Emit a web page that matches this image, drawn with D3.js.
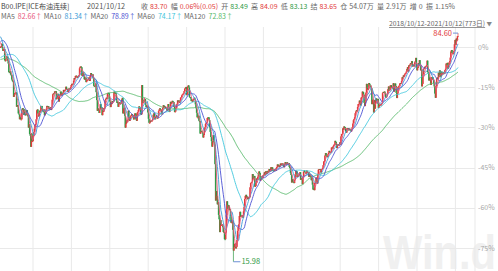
<!DOCTYPE html>
<html>
<head>
<meta charset="utf-8">
<script src="https://cdn.jsdelivr.net/npm/d3@7"></script>
<style>
body { margin: 0; background: #fff; }
</style>
</head>
<body>
<div class="chart"></div>
<script>
// daily closes, B00.IPE (ICE Brent continuous)
// 2018/04/20 - 2018/10/11, only used to warm up the moving averages
var closePre = [
74.06, 74.71, 73.86, 74.00, 74.74, 75.17, 74.64,
75.20, 73.13, 73.36, 74.87, 74.87, 76.17, 74.85, 77.21, 77.47, 77.12, 76.80, 78.23, 79.28, 79.30, 78.51, 79.22, 79.22, 78.79, 76.44, 75.30, 75.39, 77.50,
76.79, 76.30, 75.29, 75.36, 77.32, 76.46, 76.46, 76.74, 75.94, 73.44, 75.34, 75.08, 74.74, 73.05, 75.55, 74.73, 76.31, 77.62, 77.85, 79.44, 79.23,
77.30, 77.76, 77.24, 77.39, 77.11, 78.07, 78.86, 73.40, 74.45, 75.33, 71.84, 72.90, 72.90, 72.58, 73.07, 73.06, 73.44, 73.90, 74.29, 74.29, 74.00, 74.25,
74.21, 72.39, 73.45, 73.21, 74.75, 73.65, 72.28, 72.07, 72.81, 72.61, 72.61, 70.76, 71.43, 71.83, 71.93, 72.21, 74.78, 74.78, 75.73, 76.21, 75.95, 77.14, 77.42,
78.15, 78.17, 77.27, 76.50, 76.83, 77.37, 79.06, 79.74, 78.18, 78.09, 78.70, 79.40, 78.70, 78.80, 81.20, 81.87, 81.87, 81.30, 82.03, 82.72,
84.98, 84.80, 86.29, 86.07, 84.16, 83.91, 83.09, 81.41, 80.26
];
var close2018 = [
80.43, 80.78, 81.41, 80.05, 79.29, 79.78, 79.83, 76.44, 76.17, 76.89, 77.62, 77.34, 76.34, 75.47,
72.89, 72.83, 73.17, 72.13, 72.07, 70.65, 70.18, 70.12, 65.47, 66.12, 66.62, 66.76, 66.79, 62.53, 63.01, 62.60, 60.48, 60.21, 58.76, 59.51, 58.71, 58.71,
61.69, 62.08, 61.56, 60.06, 61.67, 59.97, 60.20, 60.15, 61.45, 60.28, 59.61, 56.26, 57.24, 54.35, 53.82, 50.47, 54.47, 52.16, 52.20, 53.80
];
var close2019 = [
54.91, 55.95, 57.06, 57.33, 58.72, 61.44, 61.68, 60.48, 59.59, 60.64, 61.32, 61.18, 62.70, 62.74, 61.50, 61.14, 61.09, 61.64, 59.93, 60.34, 61.32, 61.89,
62.75, 62.51, 62.69, 61.98, 62.10, 61.63, 62.42, 61.51, 62.42, 64.61, 66.25, 66.50, 66.45, 67.08, 66.91, 67.12, 64.76, 65.21, 66.39, 66.31,
64.07, 65.67, 65.86, 66.99, 66.30, 65.74, 66.58, 66.67, 67.55, 67.16, 67.54, 67.61, 68.50, 67.61, 67.86, 67.03, 67.21, 67.97, 67.83, 67.82, 68.39,
69.01, 69.37, 69.31, 69.40, 70.34, 71.10, 71.02, 71.73, 71.83, 71.55, 71.18, 71.72, 71.62, 71.97, 74.04, 74.51, 74.57, 74.35, 71.83, 72.04, 72.80,
71.62, 70.75, 70.85, 71.24, 69.88, 70.39, 70.61, 70.62, 71.24, 71.24, 70.23, 71.77, 72.62, 72.21, 71.97, 72.18, 70.99, 68.76, 68.69, 68.87, 69.45, 66.87, 64.49,
61.28, 61.97, 61.67, 60.63, 61.67, 63.29, 62.01, 62.29, 59.97, 61.31, 61.01, 62.14, 62.14, 64.45, 64.84, 65.20, 64.86, 66.49, 66.66, 66.55, 64.74,
64.06, 62.40, 63.82, 63.30, 64.23, 64.16, 64.11, 67.01, 66.52, 66.72, 66.48, 64.35, 63.66, 63.93, 62.47, 63.26, 63.83, 63.46, 63.39, 63.71, 64.72, 65.17,
60.50, 61.89, 62.15, 59.81, 56.23, 57.38, 58.53, 57.97, 58.57, 61.30, 59.48, 58.23, 58.64, 59.74, 60.03, 60.30, 59.92, 59.34, 58.70, 59.51, 60.49, 60.43,
58.66, 58.26, 60.70, 60.95, 61.54, 62.59, 62.38, 61.81, 60.38, 60.22, 69.02, 64.55, 63.60, 64.40, 64.28, 64.77, 63.10, 62.39, 62.74, 62.48, 60.78,
58.89, 57.69, 57.71, 58.37, 58.35, 58.24, 58.32, 58.89, 60.10, 60.51, 59.35, 58.74, 59.42, 59.91, 59.42, 58.96, 59.70, 61.17, 61.67, 62.02, 61.57, 61.59, 60.23,
61.69, 62.13, 62.96, 62.74, 62.29, 62.51, 62.18, 62.06, 61.37, 62.28, 63.30, 62.44, 60.91, 62.40, 63.97, 63.39, 63.65, 64.27, 64.06, 63.87, 62.43,
60.92, 61.07, 62.13, 63.00, 63.39, 64.39, 64.25, 64.34, 63.72, 64.20, 65.22, 65.34, 65.91, 66.17, 66.39, 66.54, 67.20, 67.92, 68.16, 68.44, 66.00
];
var close2020 = [
66.25, 68.60, 68.91, 68.27, 65.44, 65.37, 64.98, 64.20, 64.49, 64.00, 64.62, 64.85, 65.20, 64.59, 63.21, 62.04, 60.69, 59.32, 59.32, 59.81, 58.29, 58.16,
54.45, 54.96, 55.28, 54.93, 54.47, 53.27, 54.01, 55.79, 56.34, 57.32, 57.67, 57.75, 59.12, 59.31, 59.30, 58.50, 56.30, 54.95, 53.43, 52.18, 50.52,
51.90, 53.97, 51.86, 51.13, 45.27, 34.36, 37.22, 35.79, 33.22, 33.85, 30.05, 28.73, 24.88, 28.47, 26.98, 27.03, 27.15, 26.34, 24.93, 24.93, 22.76, 22.74,
24.74, 29.94, 34.11, 33.05, 31.87, 32.84, 31.48, 31.74, 29.60, 27.69, 27.82, 28.08, 25.57, 19.33, 20.37, 21.33, 21.44, 19.99, 20.46, 22.54, 25.27,
26.44, 27.20, 29.72, 30.97, 29.46, 29.63, 29.98, 29.63, 29.19, 31.13, 32.50, 34.81, 35.75, 36.06, 35.13, 35.53, 34.74, 35.33, 35.29, 35.33,
38.32, 39.57, 39.79, 39.99, 42.30, 40.80, 41.18, 41.73, 38.55, 38.73, 39.72, 40.96, 40.71, 41.51, 42.19, 43.08, 42.63, 40.31, 41.05, 41.02, 41.71, 41.15,
42.03, 42.14, 42.80, 42.10, 43.10, 43.08, 42.35, 43.24, 42.72, 42.90, 43.79, 43.37, 43.14, 44.32, 43.31, 44.29, 43.41, 43.34, 43.22, 43.75, 43.52, 43.30,
44.15, 44.43, 45.17, 45.09, 44.40, 44.99, 44.50, 45.43, 44.96, 45.44, 45.46, 44.90, 45.37, 44.35, 45.13, 45.86, 45.64, 45.09, 45.81, 45.28, 45.58,
45.58, 44.43, 44.07, 42.66, 42.01, 39.78, 40.79, 40.06, 39.83, 39.61, 40.53, 42.22, 43.30, 43.15, 41.44, 41.72, 41.77, 41.94, 42.43, 42.87, 40.60, 41.03,
40.93, 39.27, 41.29, 42.99, 43.34, 42.85, 42.72, 42.45, 43.32, 42.93, 42.62, 42.93, 41.46, 42.16, 41.77, 41.73, 40.46, 41.20, 39.12, 37.65, 37.94, 37.46,
39.71, 39.71, 41.23, 41.23, 39.45, 42.40, 43.61, 43.80, 43.53, 43.82, 42.78, 43.75, 43.82, 44.20, 44.96, 46.06, 46.17, 47.86, 48.61, 47.80, 47.59,
47.42, 48.25, 48.71, 49.25, 48.79, 48.84, 48.86, 50.25, 50.29, 49.97, 50.76, 51.08, 51.22, 52.26, 51.91, 50.91, 50.08, 51.20, 51.29, 50.86, 51.09, 51.80
];
var close2021 = [
51.09, 53.60, 54.30, 54.38, 55.99, 55.66, 56.58, 56.42, 56.06, 55.10, 54.75, 55.90, 56.08, 56.10, 55.41, 55.91, 55.81, 55.53, 55.10, 55.88,
56.35, 57.46, 58.46, 58.84, 59.34, 60.56, 61.09, 61.47, 61.14, 62.43, 63.30, 63.35, 64.34, 63.93, 62.91, 65.24, 65.37, 67.04, 66.88, 66.13,
63.69, 62.70, 64.07, 66.74, 69.36, 68.24, 67.52, 67.90, 69.63, 69.22, 68.88, 68.39, 68.00, 63.28, 64.53, 64.62, 60.79, 64.41, 61.95, 64.57, 64.98, 64.14, 63.54,
64.86, 62.15, 62.74, 63.16, 63.20, 62.95, 63.28, 63.67, 66.58, 66.94, 66.77, 67.05, 66.57, 65.32, 65.40, 65.65, 66.42, 67.76, 68.56, 67.25,
67.56, 68.88, 68.96, 68.09, 68.28, 68.32, 69.55, 67.05, 68.71, 69.46, 68.71, 66.66, 65.11, 66.44, 68.46, 68.65, 68.87, 69.46, 69.63, 69.32,
70.25, 71.35, 71.31, 71.89, 71.49, 72.22, 72.52, 72.69, 73.08, 73.86, 74.39, 73.08, 74.90, 74.81, 75.19, 75.56, 75.30, 76.18, 74.68, 74.76, 75.13, 74.62,
75.84, 76.17, 77.16, 74.53, 73.43, 74.12, 75.55, 75.16, 76.49, 74.76, 73.47, 73.59, 68.62, 69.35, 72.23, 73.79, 74.10, 74.50, 74.48, 74.74, 75.05, 76.33,
72.89, 72.41, 70.38, 71.29, 70.70, 69.04, 70.63, 71.44, 71.31, 70.59, 69.51, 68.59, 66.45, 65.18, 68.75, 71.05, 71.25, 70.79, 72.70, 71.49, 73.41, 71.63,
71.59, 73.03, 72.61, 72.22, 72.92, 72.60, 72.45, 73.51, 73.92, 75.46, 75.34, 75.67, 73.92, 74.92, 75.79, 76.19, 77.25, 79.09, 79.53, 78.64, 78.31, 78.52,
79.28, 81.26, 82.56, 81.08, 82.95, 82.39, 83.65, 83.70
];

// marked extremes of the period
var highMark = 84.60;
var lowMark = 15.98;

var maPeriods = [5, 10, 20, 60, 120];
var maLast = ["82.66", "81.34", "78.89", "74.17", "72.83"];
var pctTicks = [0, -15, -30, -45, -60, -75];

var title = "B00.IPE[ICE布油连续]";
var quoteDate = "2021/10/12";
var quoteLabels = ["收", "幅", "开", "高", "低", "结", "仓", "量", "增", "振"];
var quoteValues = ["83.70", "0.06%(0.05)", "83.49", "84.09", "83.13", "83.65", "54.07万", "2.91万", "0", "1.15%"];
var quoteTone = ["up", "up", "down", "up", "down", "up", "", "", "", ""];
var rangeText = "2018/10/12-2021/10/12(773日)";

// styles
var RED = "#e23a3a", GREEN = "#2f9a45";
var maColors = ["#e8557a", "#3b9ad6", "#4b50d2", "#3ec6dc", "#56b96a"];
var font = "'Noto Sans CJK SC', 'Noto Sans', sans-serif";

var W = 498, H = 271;
var svg = d3.select("div.chart").append("svg")
	.attr("width", W)
	.attr("height", H)
	.style("display", "block");

var closes = close2018.concat(close2019, close2020, close2021);
var all = closePre.concat(closes);
var pre = closePre.length;
var n = closes.length;
var base = closes[0];

function pct(p) {
	return (p / base - 1) * 100;
}

var x = d3.scaleLinear().domain([0, n - 1]).range([0.5, 458]);
var y = d3.scaleLinear().domain([-75, 0]).range([248, 47]);

// watermark
svg.append("text")
	.attr("x", 383)
	.attr("y", 269)
	.attr("textLength", 113)
	.attr("lengthAdjust", "spacingAndGlyphs")
	.style("font-family", "'Liberation Sans', Arial, sans-serif")
	.style("font-weight", "bold")
	.style("font-size", "48px")
	.style("fill", "#f0f0f0")
	.text("Win.d");

// grid
var grid = svg.append("g").attr("class", "grid");
var gridStep = 38.4;
var gridX = d3.range(12).map(function(k) { return 33 + k * gridStep; });
gridX.push(475);
grid.selectAll("line.v")
	.data(gridX)
	.enter()
	.append("line")
	.attr("class", "v")
	.attr("x1", function(d) { return d; })
	.attr("x2", function(d) { return d; })
	.attr("y1", 27)
	.attr("y2", H)
	.attr("stroke", "#e9e9e9");
grid.selectAll("line.h")
	.data(pctTicks)
	.enter()
	.append("line")
	.attr("class", "h")
	.attr("x1", 0)
	.attr("x2", 475)
	.attr("y1", function(d) { return Math.round(y(d)) + 0.5; })
	.attr("y2", function(d) { return Math.round(y(d)) + 0.5; })
	.attr("stroke", "#e9e9e9");

// right axis labels
svg.selectAll("text.tick")
	.data(pctTicks)
	.enter()
	.append("text")
	.attr("class", "tick")
	.attr("x", 478)
	.attr("y", function(d) { return y(d) + 2.5; })
	.style("font-family", font)
	.style("font-size", "7px")
	.style("fill", "#a8a8a8")
	.text(function(d) { return d + "%"; });

// candles (open taken as previous close)
var candles = closes.map(function(c, i) {
	var o = all[pre + i - 1];
	return { i: i, o: o, c: c, hi: Math.max(o, c), lo: Math.min(o, c) };
});
var hiC = d3.greatest(candles, function(d) { return d.c; });
var loC = d3.least(candles, function(d) { return d.c; });
hiC.hi = highMark;
loC.lo = lowMark;

var cg = svg.append("g").attr("class", "candles");
cg.selectAll("line")
	.data(candles)
	.enter()
	.append("line")
	.attr("x1", function(d) { return x(d.i); })
	.attr("x2", function(d) { return x(d.i); })
	.attr("y1", function(d) { return y(pct(d.hi)); })
	.attr("y2", function(d) { return y(pct(d.lo)); })
	.attr("stroke", function(d) { return d.c >= d.o ? RED : GREEN; })
	.attr("stroke-width", 0.7);
cg.selectAll("rect")
	.data(candles)
	.enter()
	.append("rect")
	.attr("x", function(d) { return x(d.i) - 0.7; })
	.attr("width", 1.4)
	.attr("y", function(d) { return y(pct(Math.max(d.o, d.c))); })
	.attr("height", function(d) {
		return Math.max(1, y(pct(Math.min(d.o, d.c))) - y(pct(Math.max(d.o, d.c))));
	})
	.attr("fill", function(d) { return d.c >= d.o ? RED : GREEN; });

// moving averages
var maG = svg.append("g").attr("class", "ma");
maPeriods.slice().reverse().forEach(function(p) {
	var k = maPeriods.indexOf(p);
	var vals = closes.map(function(c, i) {
		var end = pre + i + 1;
		return { i: i, v: d3.mean(all.slice(Math.max(0, end - p), end)) };
	});
	maG.append("path")
		.datum(vals)
		.attr("fill", "none")
		.attr("stroke", maColors[k])
		.attr("stroke-width", 0.9)
		.attr("d", d3.line()
			.x(function(d) { return x(d.i); })
			.y(function(d) { return y(pct(d.v)); }));
});

// extreme markers
var hx = x(hiC.i), hy = y(pct(highMark));
svg.append("line")
	.attr("x1", hx - 5).attr("x2", hx)
	.attr("y1", hy).attr("y2", hy)
	.attr("stroke", "#6d8fd6");
svg.append("text")
	.attr("x", hx - 6)
	.attr("y", hy + 2.5)
	.attr("text-anchor", "end")
	.style("font-family", font)
	.style("font-size", "7.5px")
	.style("fill", RED)
	.text(highMark.toFixed(2));

var lx = x(loC.i), ly = y(pct(lowMark));
svg.append("line")
	.attr("x1", lx).attr("x2", lx + 7)
	.attr("y1", ly).attr("y2", ly)
	.attr("stroke", "#6d8fd6");
svg.append("text")
	.attr("x", lx + 8)
	.attr("y", ly + 2.5)
	.style("font-family", font)
	.style("font-size", "7.5px")
	.style("fill", GREEN)
	.text(lowMark.toFixed(2));

// header
var head = svg.append("g")
	.style("font-family", font)
	.style("font-size", "7px");
head.append("text").attr("x", 1).attr("y", 8.5).style("fill", "#444").text(title);
head.append("text").attr("x", 87).attr("y", 8.5).style("fill", "#555").style("font-size", "7.3px").text(quoteDate);

function toneColor(t) {
	return t == "up" ? RED : (t == "down" ? GREEN : "#666");
}

// lay out label/value pairs one after another between two edges
function layoutRow(labels, values, colors, y0, left, right, inner) {
	var nodes = [];
	var total = 0;
	labels.forEach(function(l, i) {
		var a = head.append("text").attr("y", y0).style("fill", "#666").text(l);
		var b = head.append("text").attr("y", y0).style("fill", colors[i]).text(values[i]);
		var wa = a.node().getComputedTextLength();
		var wb = b.node().getComputedTextLength();
		nodes.push([a, b, wa, wb]);
		total += wa + inner + wb;
	});
	var gap = (right - left - total) / (labels.length - 1);
	var cx = left;
	nodes.forEach(function(t) {
		t[0].attr("x", cx);
		t[1].attr("x", cx + t[2] + inner);
		cx += t[2] + inner + t[3] + gap;
	});
}

layoutRow(quoteLabels, quoteValues, quoteTone.map(toneColor), 8.5, 141, 455, 2);
layoutRow(maPeriods.map(function(p) { return "MA" + p; }),
	maLast.map(function(v) { return v + "↑"; }),
	maColors, 18.5, 1, 233, 3);

// date range selector
var rt = head.append("text")
	.attr("x", 389)
	.attr("y", 26)
	.style("fill", "#666")
	.style("font-size", "6.8px")
	.style("text-decoration", "underline")
	.text(rangeText);
var rw = rt.node().getComputedTextLength();
head.append("text")
	.attr("x", 389 + rw + 1.5)
	.attr("y", 26)
	.style("fill", "#888")
	.style("font-size", "5.5px")
	.text("▼");
</script>
</body>
</html>
